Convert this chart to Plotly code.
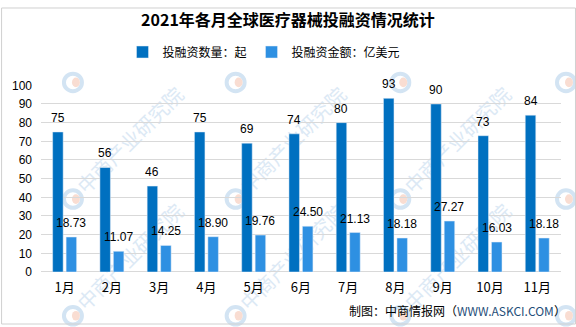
import plotly.graph_objects as go

# ---- data ----
months = ["1月", "2月", "3月", "4月", "5月", "6月", "7月", "8月", "9月", "10月", "11月"]
deal_count = [75, 56, 46, 75, 69, 74, 80, 93, 90, 73, 84]
deal_amount = [18.73, 11.07, 14.25, 18.90, 19.76, 24.50, 21.13, 18.18, 27.27, 16.03, 18.18]
series_names = ["投融资数量：起", "投融资金额：亿美元"]
title_text = "2021年各月全球医疗器械投融资情况统计"
source_text = '制图：中商情报网（<span style="color:#1F4E79">WWW.ASKCI.COM</span>）'
watermark_text = "中商产业研究院"

# ---- styling ----
DARK = "#0070C0"
LIGHT = "#2E90E2"
GRID = "#D9D9D9"
W, H = 576, 327
ML, MR, MT, MB = 40, 15, 80, 55
PW, PH = W - ML - MR, H - MT - MB
LABEL_FONT = dict(family="Liberation Sans, Noto Sans CJK SC", size=12, color="#000000")
CJK = "Noto Sans CJK SC, Liberation Sans"

BARGAP = 0.43
GROUPGAP = 0.22
cat_px = PW / len(months)
slot_px = cat_px * (1 - BARGAP) / 2
bar_off = slot_px / 2  # centre of each bar relative to the category centre


def px_to_paper(x, y):
    return (x - ML) / PW, (H - MB - y) / PH


fig = go.Figure()
fig.add_trace(go.Bar(x=months, y=deal_count, name=series_names[0], marker_color=DARK))
fig.add_trace(go.Bar(x=months, y=deal_amount, name=series_names[1], marker_color=LIGHT))

annotations = []
for m, c, a in zip(months, deal_count, deal_amount):
    annotations.append(dict(x=m, y=c, text=str(c), showarrow=False, xshift=-bar_off,
                            yshift=14, yanchor="middle", font=LABEL_FONT))
    annotations.append(dict(x=m, y=a, text=f"{a:.2f}", showarrow=False, xshift=bar_off,
                            yshift=14, yanchor="middle", font=LABEL_FONT))

annotations.append(dict(xref="paper", yref="paper", x=px_to_paper(568, 0)[0],
                        y=px_to_paper(0, 312)[1], xanchor="right", yanchor="middle",
                        text=source_text, showarrow=False,
                        font=dict(family=CJK, size=12, color="#000000")))

# background watermark (logo + slanted name), drawn under the grid and bars
shapes = []
wm_cols = [-93, 72, 235, 400, 566]
wm_rows = [77, 197, 317]
for ly in wm_rows:
    for lx in wm_cols:
        cx, cy = lx + 59, ly - 59
        if 55 <= cx <= W - 55 and 55 <= cy <= H - 55:
            x0, y0 = px_to_paper(cx - 5, cy + 5)
            x1, y1 = px_to_paper(cx + 5, cy - 5)
            shapes.append(dict(type="rect", xref="paper", yref="paper", x0=x0, y0=y0, x1=x1, y1=y1,
                               line=dict(width=0), fillcolor="rgba(0,0,0,0)", layer="below",
                               label=dict(text=watermark_text, textangle=-45,
                                          textposition="middle center",
                                          font=dict(family=CJK, size=20, color="#DCE9F5"))))
        a0, b0 = px_to_paper(lx - 9, ly + 9)
        a1, b1 = px_to_paper(lx + 9, ly - 9)
        shapes.append(dict(type="circle", xref="paper", yref="paper", x0=a0, y0=b0, x1=a1, y1=b1,
                           line=dict(color="#D3E4F3", width=4), fillcolor="rgba(0,0,0,0)", layer="below"))
        c0, d0 = px_to_paper(lx - 1, ly + 5)
        c1, d1 = px_to_paper(lx + 7, ly - 5)
        shapes.append(dict(type="circle", xref="paper", yref="paper", x0=c0, y0=d0, x1=c1, y1=d1,
                           line=dict(width=0), fillcolor="#F9DDD2", layer="below"))

# thin frame around the whole figure
f0, g0 = px_to_paper(0.5, H - 1.5)
f1, g1 = px_to_paper(W - 0.5, 0.5)
shapes.append(dict(type="rect", xref="paper", yref="paper", x0=f0, y0=g0, x1=f1, y1=g1,
                   line=dict(color="#D0D0D0", width=1), fillcolor="rgba(0,0,0,0)", layer="above"))

fig.update_layout(
    width=W, height=H,
    margin=dict(l=ML, r=MR, t=MT, b=MB),
    paper_bgcolor="#FFFFFF",
    plot_bgcolor="rgba(0,0,0,0)",
    barmode="group",
    bargap=BARGAP,
    bargroupgap=GROUPGAP,
    title=dict(text=f"<b>{title_text}</b>", x=0.5, xref="container", xanchor="center",
               y=1 - 20 / H, yref="container", yanchor="middle",
               font=dict(family=CJK, size=16, color="#000000")),
    legend=dict(orientation="h", x=264 / W, xref="container", xanchor="center",
                y=1 - 52 / H, yref="container", yanchor="middle",
                font=dict(family=CJK, size=12, color="#000000"),
                itemwidth=30, tracegroupgap=0, bgcolor="rgba(0,0,0,0)"),
    xaxis=dict(showgrid=False, showline=False, ticks="", ticklabelstandoff=6,
               tickfont=dict(family=CJK, size=13, color="#000000")),
    yaxis=dict(range=[0, 100], dtick=10, showgrid=True, gridcolor=GRID, gridwidth=1,
               zeroline=True, zerolinecolor=GRID, zerolinewidth=1, showline=False,
               ticks="", ticklabelstandoff=8,
               tickfont=dict(family="Liberation Sans", size=12, color="#000000")),
    annotations=annotations,
    shapes=shapes,
)

fig.write_html("out.html")
